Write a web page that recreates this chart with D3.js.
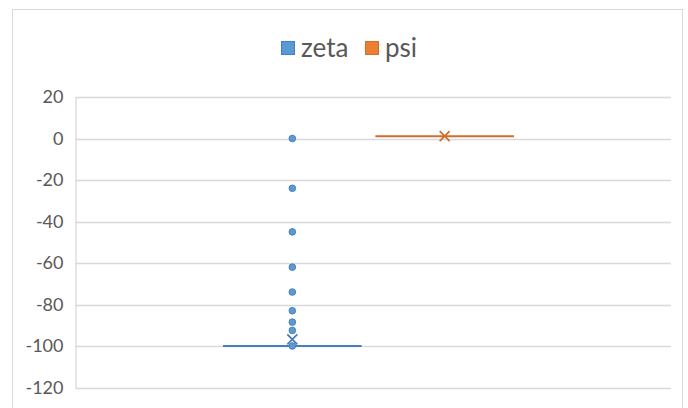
<!DOCTYPE html>
<html>
<head>
<meta charset="utf-8">
<script src="https://cdn.jsdelivr.net/npm/d3@7"></script>
<style>
  body { margin: 0; background: #fff; }
  svg { display: block; }
</style>
</head>
<body>
<script>
// chart values
var series = ["zeta", "psi"];
var colors = ["#5B9BD5", "#ED7D31"];
var lineColors = ["#4A7EBB", "#D06E2E"];
// box stats: [min, q1, median, q3, max]
var zetaBox = [-100, -100, -100, -100, -100];
var psiBox = [1.1, 1.1, 1.1, 1.1, 1.1];
var zetaMean = -96.8;
var psiMean = 1.1;
var zetaOutliers = [0, -24, -45, -62, -74, -83, -88.5, -92.5];
var psiOutliers = [];
var yTicks = [20, 0, -20, -40, -60, -80, -100, -120];

var width = 688;
var height = 408;

var svg = d3.select("body").append("svg")
    .attr("width", width)
    .attr("height", height);

// chart frame
svg.append("rect")
    .attr("x", 12.5).attr("y", 9.5)
    .attr("width", 670).attr("height", 410)
    .attr("fill", "#fff")
    .attr("stroke", "#d9d9d9");

var plotLeft = 75.5, plotRight = 671, plotTop = 97, plotBottom = 387.5;

var y = d3.scaleLinear()
    .domain([-120, 20])
    .range([plotBottom, plotTop]);

// one category, two series side by side
var x = d3.scaleBand()
    .domain(series)
    .range([plotLeft + 147.5, plotRight - 157])
    .paddingInner(0.09);

// gridlines
svg.append("g")
    .selectAll("line")
    .data(yTicks)
    .enter()
    .append("line")
    .attr("x1", plotLeft)
    .attr("x2", plotRight)
    .attr("y1", function(d) { return Math.round(y(d)) + 0.5; })
    .attr("y2", function(d) { return Math.round(y(d)) + 0.5; })
    .attr("stroke", "#d9d9d9")
    .attr("stroke-width", 1.3);

// y axis (plain hyphen minus like the original)
var yAxis = d3.axisLeft(y)
    .tickValues(yTicks)
    .tickFormat(function(d) { return String(d); })
    .tickSize(0)
    .tickPadding(12);

var gy = svg.append("g")
    .attr("transform", "translate(" + plotLeft + ",0)")
    .call(yAxis);
gy.select(".domain").attr("stroke", "#d9d9d9").attr("stroke-width", 1.3);
gy.selectAll("text")
    .attr("font-family", "Lato, 'Open Sans', sans-serif")
    .attr("font-size", 18)
    .attr("fill", "#595959");

// boxes
var boxes = [
    { name: "zeta", box: zetaBox, mean: zetaMean, outliers: zetaOutliers },
    { name: "psi", box: psiBox, mean: psiMean, outliers: psiOutliers }
];

boxes.forEach(function(s, i) {
    var g = svg.append("g");
    var x0 = x(s.name), bw = x.bandwidth(), cx = x0 + bw / 2;

    // box (collapsed when quartiles are equal)
    g.append("rect")
        .attr("x", x0)
        .attr("y", y(s.box[3]))
        .attr("width", bw)
        .attr("height", Math.max(0, y(s.box[1]) - y(s.box[3])))
        .attr("fill", colors[i])
        .attr("stroke", lineColors[i])
        .attr("stroke-width", 1.5);

    // median line
    g.append("line")
        .attr("x1", x0).attr("x2", x0 + bw)
        .attr("y1", y(s.box[2])).attr("y2", y(s.box[2]))
        .attr("stroke", lineColors[i])
        .attr("stroke-width", 2);

    // outliers
    g.selectAll("circle")
        .data(s.outliers.concat([s.box[0]]).filter(function() { return s.outliers.length > 0; }))
        .enter()
        .append("circle")
        .attr("cx", cx)
        .attr("cy", function(d) { return y(d); })
        .attr("r", 3.3)
        .attr("fill", colors[i])
        .attr("stroke", lineColors[i])
        .attr("stroke-width", 1);

    // mean marker
    var m = 5;
    var my = y(s.mean);
    g.append("path")
        .attr("d", "M" + (cx - m) + "," + (my - m) + "L" + (cx + m) + "," + (my + m) +
                   "M" + (cx + m) + "," + (my - m) + "L" + (cx - m) + "," + (my + m))
        .attr("stroke", lineColors[i])
        .attr("stroke-width", 1.8)
        .attr("fill", "none");
});

// legend
var legend = svg.append("g");
var legendX = [281, 365];
series.forEach(function(name, i) {
    legend.append("rect")
        .attr("x", legendX[i] + 0.5).attr("y", 41.5)
        .attr("width", 13).attr("height", 13)
        .attr("fill", colors[i])
        .attr("stroke", lineColors[i])
        .attr("stroke-width", 1);
    legend.append("text")
        .attr("x", legendX[i] + 20)
        .attr("y", 56.5)
        .attr("font-family", "Lato, 'Open Sans', sans-serif")
        .attr("font-size", 26)
        .attr("fill", "#595959")
        .text(name);
});
</script>
</body>
</html>
